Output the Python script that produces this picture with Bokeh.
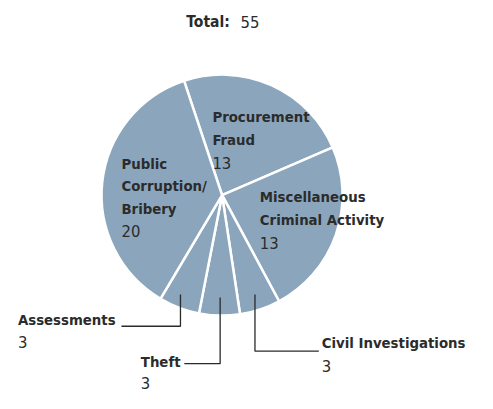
import math
from bokeh.plotting import figure
from bokeh.models import Range1d, ColumnDataSource
from bokeh.core.properties import value
from bokeh.embed import file_html
from bokeh.resources import INLINE

# ---- data ----
categories = ["Procurement Fraud", "Miscellaneous Criminal Activity", "Civil Investigations",
              "Theft", "Assessments", "Public Corruption/Bribery"]
counts = [13, 13, 3, 3, 3, 20]
label_lines = [["Procurement", "Fraud"], ["Miscellaneous", "Criminal Activity"],
               ["Civil Investigations"], ["Theft"], ["Assessments"],
               ["Public", "Corruption/", "Bribery"]]
total = sum(counts)
title_label = "Total:"

W, H = 477, 393
SX, SY = W / 493, H / 409
S = (SX + SY) / 2
FONT = "DejaVu Sans Condensed, Roboto, sans-serif"
TXT = "#2b2b2b"
FILL = "#8ba6bc"
TSHIFT = 5.5  # compensate baseline placement of svg text

def P(px, py):
    """reference-image pixel -> data coords of the figure"""
    return px * SX, H - py * SY

def PT(px, py):
    x, y = P(px, py)
    return x, y + TSHIFT

p = figure(width=W, height=H, output_backend="svg", toolbar_location=None,
           x_range=Range1d(0, W), y_range=Range1d(0, H), min_border=0)
p.axis.visible = False
p.grid.visible = False
p.outline_line_color = None
p.background_fill_color = "white"
p.border_fill_color = "white"

cx, cy = P(229, 202.5)
R = 125 * S
start = math.radians(108.4)
starts, ends = [], []
a = start
for c in counts:
    sweep = 2 * math.pi * c / total
    ends.append(a)
    starts.append(a - sweep)
    a -= sweep
src = ColumnDataSource(dict(start=starts, end=ends, cat=categories, n=counts))
p.wedge(x=cx, y=cy, radius=R, start_angle="start", end_angle="end", source=src,
        fill_color=FILL, line_color="white", line_width=2.5)

# label anchors: (left x, baseline of first line) in reference pixels, line step
anchors = [(219, 126, 24.5), (268, 210, 24), (332, 362, 24), (145, 381, 22.5),
           (18, 338, 23), (125, 175, 23.5)]
bx, by, bt = [], [], []
nx, ny, nt = [], [], []
for (ax, ay, lh), lines, c in zip(anchors, label_lines, counts):
    for i, ln in enumerate(lines):
        x, y = PT(ax, ay + i * lh)
        bx.append(x); by.append(y); bt.append(ln)
    x, y = PT(ax, ay + len(lines) * lh)
    nx.append(x); ny.append(y); nt.append(str(c))

p.text(x=bx, y=by, text=bt, text_font=value(FONT), text_font_style="bold",
       text_font_size="14.8px", text_color=TXT, text_baseline="alphabetic", text_align="left")
p.text(x=nx, y=ny, text=nt, text_font=value(FONT), text_font_style="normal",
       text_font_size="16.5px", text_color=TXT, text_baseline="alphabetic", text_align="left")

# leader lines
leaders = [
    [(186, 306), (186, 339), (125, 339)],
    [(227, 309), (227, 378), (190, 378)],
    [(263, 306), (263, 365), (329, 365)],
]
xs = [[P(*pt)[0] for pt in l] for l in leaders]
ys = [[P(*pt)[1] for pt in l] for l in leaders]
p.multi_line(xs=xs, ys=ys, line_color="#2a2a2a", line_width=1.3)

# title
tx, ty = PT(237, 28)
p.text(x=[tx], y=[ty], text=[title_label], text_font=value(FONT), text_font_style="bold",
       text_font_size="15.5px", text_color=TXT, text_baseline="alphabetic", text_align="right")
tx2, ty2 = PT(248, 28)
p.text(x=[tx2], y=[ty2], text=[str(total)], text_font=value(FONT), text_font_style="normal",
       text_font_size="16.5px", text_color=TXT, text_baseline="alphabetic", text_align="left")

open("out.html", "w").write(file_html(p, INLINE))
